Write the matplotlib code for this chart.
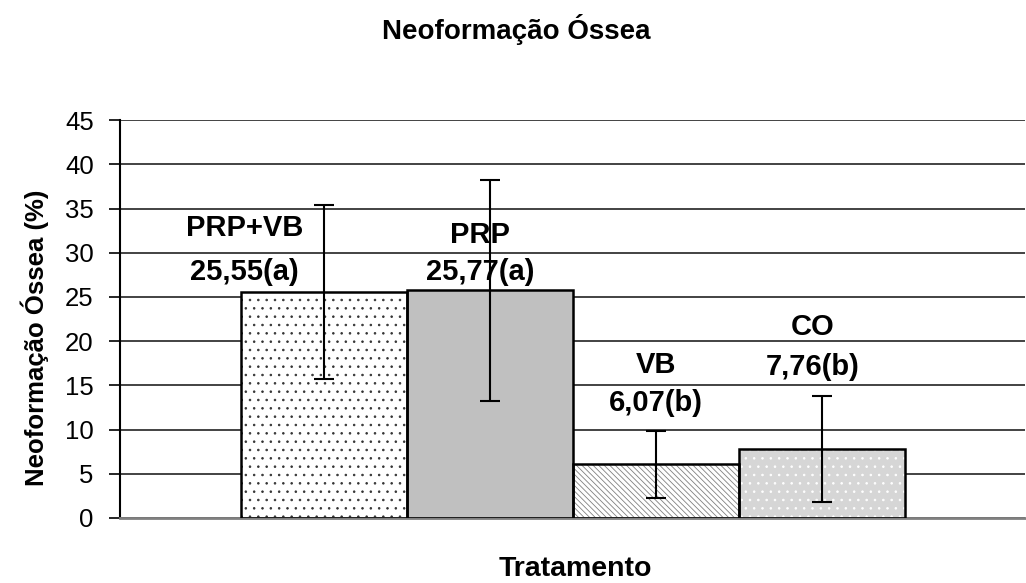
import matplotlib.pyplot as plt

plt.rcParams['font.family'] = ['Liberation Sans', 'DejaVu Sans']
plt.rcParams['hatch.linewidth'] = 0.6

# data
grupos = ['PRP+VB', 'PRP', 'VB', 'CO']
medias = [25.55, 25.77, 6.07, 7.76]
erros = [9.8, 12.5, 3.8, 6.0]
rotulos = ['25,55(a)', '25,77(a)', '6,07(b)', '7,76(b)']
# label positions (x offset from bar, y of name, y of value)
dx_rot = [-0.48, -0.06, 0.0, -0.06]
y_nome = [32.8, 32.0, 17.3, 21.6]
y_valor = [27.8, 27.8, 13.0, 17.1]

cores = ['white', '#c0c0c0', 'white', '#d6d6d6']
hachuras = ['..', None, '\\\\\\\\\\\\', '..']
cor_hach = ['#333333', '#c0c0c0', '#808080', 'white']

fig = plt.figure(figsize=(10.26, 5.83), dpi=100)
ax = fig.add_axes([0.117, 0.1115, 0.882, 0.6825])

x = range(len(grupos))
# fill + hatch
for i in x:
    ax.bar(i, medias[i], width=1.0, color=cores[i], hatch=hachuras[i],
           edgecolor=cor_hach[i], linewidth=0, zorder=2)
# outline
ax.bar(x, medias, width=1.0, fill=False, edgecolor='black', linewidth=1.8, zorder=3)
ax.errorbar(x, medias, yerr=erros, fmt='none', ecolor='black', elinewidth=1.5,
            capsize=7, capthick=1.5, zorder=4)

for i in x:
    ax.text(i + dx_rot[i], y_nome[i], grupos[i], ha='center', va='center',
            fontsize=21, fontweight='bold', zorder=5)
    ax.text(i + dx_rot[i], y_valor[i], rotulos[i], ha='center', va='center',
            fontsize=21, fontweight='bold', zorder=5)

ax.set_xlim(-1.23, 4.22)
ax.set_ylim(0, 45)
ax.set_yticks(range(0, 46, 5))
ax.set_xticks([])
ax.yaxis.grid(True, color='#222222', linewidth=1.2)
ax.set_axisbelow(True)
ax.tick_params(axis='y', labelsize=18.5, length=8, width=1.2, pad=11)
for s in ['top', 'right']:
    ax.spines[s].set_visible(False)
ax.spines['left'].set_linewidth(1.5)
ax.spines['bottom'].set_color('#808080')
ax.spines['bottom'].set_linewidth(2)

fig.text(0.503, 0.949, 'Neoformação Óssea', ha='center', va='center',
         fontsize=20, fontweight='bold')
fig.text(0.561, 0.024, 'Tratamento', ha='center', va='center',
         fontsize=20.5, fontweight='bold')
fig.text(0.034, 0.42, 'Neoformação Óssea (%)', ha='center', va='center',
         rotation=90, fontsize=18.5, fontweight='bold')

fig.savefig('out.png', dpi=100)
